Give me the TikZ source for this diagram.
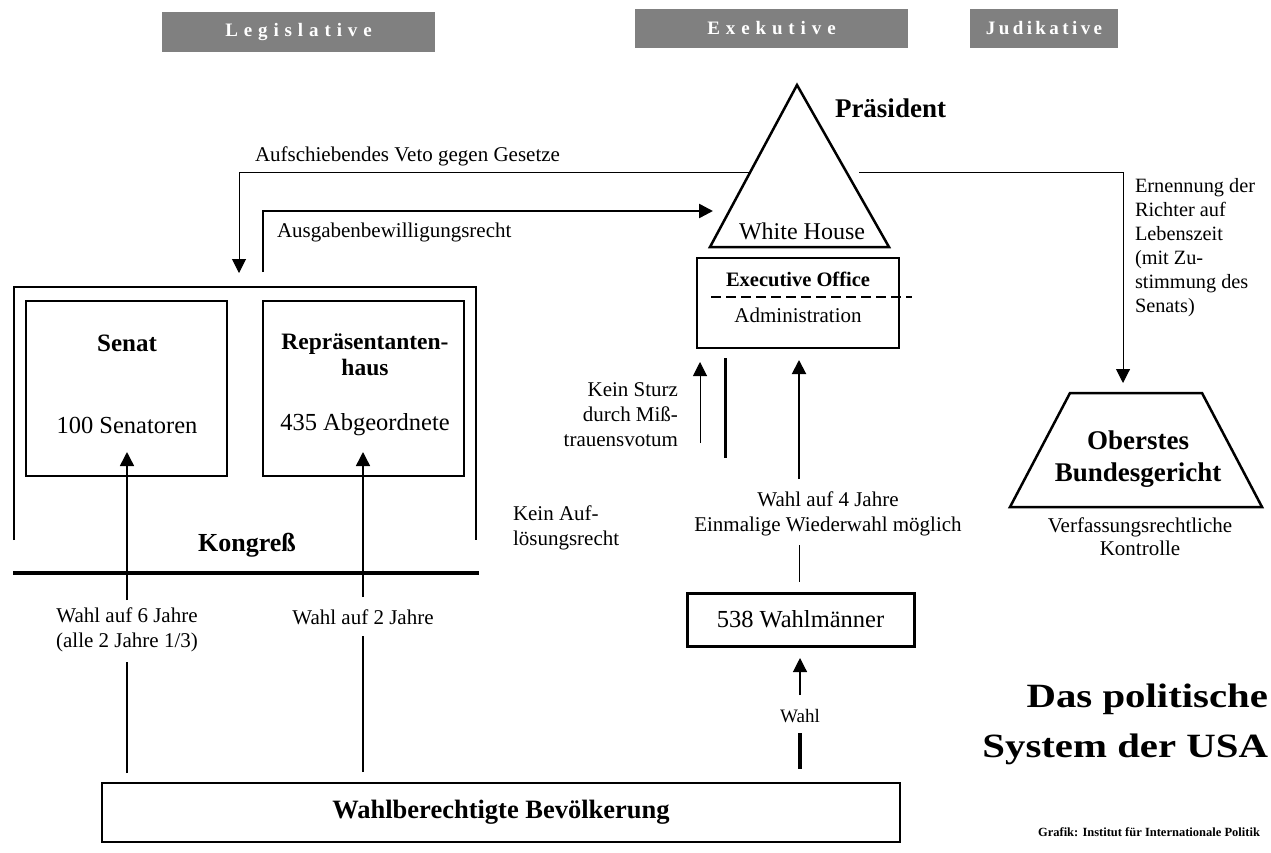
\documentclass[tikz,border=0pt]{standalone}
\usepackage{fontspec}
\usepackage{graphicx}
\setmainfont{Liberation Serif}
\newfontfamily\hdrfont[LetterSpace=31]{Liberation Serif}
\newfontfamily\hdrfontj[LetterSpace=18]{Liberation Serif}
\usetikzlibrary{arrows.meta}
\newcommand\fsz[2]{\fontsize{#1}{#2}\selectfont}
\begin{document}
\begin{tikzpicture}[x=1pt,y=-1pt,
  every node/.style={inner sep=0pt, outer sep=0pt},
  tip/.style={-{Triangle[length=14pt,width=14pt]}},
  hdr/.style={fill=black!50, text=white, font=\hdrfont\bfseries\fsz{19}{22}},
  box/.style={draw, line width=2pt},
  lbl/.style={font=\fsz{21}{25}, align=center},
  thinline/.style={line width=1pt},
  midline/.style={line width=1.5pt},
  thickline/.style={line width=3pt}]
\useasboundingbox (0,0) rectangle (1271,852);
\fill[white] (0,0) rectangle (1271,852);

% headers
\node[hdr, minimum width=273pt, minimum height=40pt] (leg) at (298.5,32) {Legislative};
\node[hdr, minimum width=273pt, minimum height=39pt] (exe) at (771.5,28.5) {Exekutive};
\node[hdr, font=\hdrfontj\bfseries\fsz{19}{22}, minimum width=148pt, minimum height=39pt] (jud) at (1044,28.5) {Judikative};

% president triangle
\coordinate (pA) at (797,85);
\coordinate (pL) at (710,247);
\coordinate (pR) at (889,247);
\draw[line width=2.5pt, line join=miter] (pA) -- (pL) -- (pR) -- cycle;
\node[font=\bfseries\fsz{27}{30}, anchor=west] (praes) at (835,108) {Präsident};
\node[font=\fsz{24}{28}] (wh) at (802,231) {White House};

% executive office
\node[box, minimum width=202pt, minimum height=90pt] (eo) at (798,303) {};
\node[font=\bfseries\fsz{20.5}{24}] (eot) at (798,279) {Executive Office};
\node[font=\fsz{21}{24}] (adm) at (798,315) {Administration};
\coordinate (dl1) at (711,297);
\coordinate (dl2) at (912,297);
\draw[line width=2pt, dash pattern=on 10pt off 5pt] (dl1) -- (dl2);

% veto
\coordinate (vL) at (750,172);
\coordinate (vT) at (239,273);
\draw[thinline, tip] (vL) -| (vT);
\node[lbl, anchor=west] (veto) at (255,156) {Aufschiebendes Veto gegen Gesetze};
\coordinate (vR) at (859,172);
\coordinate (cT) at (1123,383);
\draw[thinline, tip] (vR) -| (cT);
\node[font=\fsz{20.3}{24}, align=left, anchor=west] (ern) at (1135,248)
  {Ernennung der\\Richter auf\\Lebenszeit\\(mit Zu-\\stimmung des\\Senats)};

% Ausgaben
\coordinate (aS) at (263,272);
\coordinate (aT) at (713,211);
\draw[line width=2.5pt, tip] (aS) |- (aT);
\node[lbl, anchor=west] (ausg) at (277,232) {Ausgabenbewilligungsrecht};

% Kongress frame
\coordinate (k1) at (14,540);
\coordinate (k2) at (14,287);
\coordinate (k3) at (476,287);
\coordinate (k4) at (476,540);
\draw[line width=2.5pt] (k1) -- (k2) -- (k3) -- (k4);
\coordinate (kb1) at (13,573);
\coordinate (kb2) at (479,573);
\draw[line width=3.5pt] (kb1) -- (kb2);
\node[font=\bfseries\fsz{26}{30}] (kong) at (247,545) {Kongreß};

% Senat and Repraesentantenhaus
\node[box, minimum width=201pt, minimum height=175pt] (senat) at (126.5,388.5) {};
\node[font=\bfseries\fsz{25}{28}] (senatt) at (127,343) {Senat};
\node[font=\fsz{24.5}{28}] (senz) at (127,425) {100 Senatoren};
\node[box, minimum width=201pt, minimum height=175pt] (rep) at (363.5,388.5) {};
\node[font=\bfseries\fsz{23.5}{26}, align=center] (rept) at (365,355) {Repräsentanten-\\haus};
\node[font=\fsz{24.5}{28}] (repz) at (365,425) {435 Abgeordnete};

% population
\node[draw, line width=1.5pt, minimum width=798pt, minimum height=59pt,
  font=\bfseries\fsz{26.5}{30}] (bev) at (501,812.5) {Wahlberechtigte Bevölkerung};

% senate election
\node[lbl] (w6) at (127,630) {Wahl auf 6 Jahre\\(alle 2 Jahre 1/3)};
\coordinate (s0) at (127,773);
\coordinate (s1) at (127,662);
\coordinate (s2) at (127,600);
\coordinate (sT) at (127,452);
\draw[midline] (s0) -- (s1);
\draw[midline, tip] (s2) -- (sT);

% house election
\node[lbl] (w2) at (363,617) {Wahl auf 2 Jahre};
\coordinate (r0) at (363,772);
\coordinate (r1) at (363,636);
\coordinate (r2) at (363,597);
\coordinate (rT) at (363,452);
\draw[midline] (r0) -- (r1);
\draw[midline, tip] (r2) -- (rT);

% no vote of no confidence / no dissolution
\coordinate (ks0) at (700,443);
\coordinate (ksT) at (700,362);
\draw[thinline, tip] (ks0) -- (ksT);
\coordinate (kt0) at (725,358);
\coordinate (kt1) at (725,458);
\draw[thickline] (kt0) -- (kt1);
\node[lbl, align=right, anchor=east] (sturz) at (678,415) {Kein Sturz\\durch Miß-\\trauensvotum};
\node[lbl, align=left, anchor=west] (aufl) at (513,528) {Kein Auf-\\lösungsrecht};

% president election
\coordinate (m0) at (799,479);
\coordinate (mT) at (799,360);
\draw[line width=2pt, tip] (m0) -- (mT);
\node[lbl] (w4) at (828,514) {Wahl auf 4 Jahre\\Einmalige Wiederwahl möglich};
\coordinate (m1) at (799,545);
\coordinate (m2) at (799,582);
\draw[thinline] (m1) -- (m2);

\node[draw, line width=3pt, minimum width=227pt, minimum height=53pt,
  font=\fsz{24.5}{28}] (wm) at (800.5,619.5) {538 Wahlmänner};
\coordinate (e0) at (800,695);
\coordinate (eT) at (800,658);
\draw[line width=1.2pt, tip] (e0) -- (eT);
\node[font=\fsz{19}{22}] (wahl) at (800,716) {Wahl};
\coordinate (e1) at (800,733);
\coordinate (e2) at (800,769);
\draw[line width=3.5pt] (e1) -- (e2);

% supreme court
\coordinate (c1) at (1010,507);
\coordinate (c2) at (1070,393);
\coordinate (c3) at (1202,393);
\coordinate (c4) at (1262,507);
\draw[line width=2.5pt, line join=miter] (c1) -- (c2) -- (c3) -- (c4) -- cycle;
\node[font=\bfseries\fsz{27}{32}, align=center] (ob) at (1138,459) {Oberstes\\Bundesgericht};
\node[lbl, font=\fsz{21}{23}] (vk) at (1140,537) {Verfassungsrechtliche\\Kontrolle};

% title
\node[font=\bfseries\fsz{34}{40}, anchor=base east] (t1) at (1268,707) {\scalebox{1.2}[1]{Das politische}};
\node[font=\bfseries\fsz{34}{40}, anchor=base east] (t2) at (1268,757) {\scalebox{1.2}[1]{System der USA}};
\node[font=\bfseries\fsz{12.5}{14}] (credit) at (1149,832) {Grafik: Institut für Internationale Politik};
\end{tikzpicture}
\end{document}
